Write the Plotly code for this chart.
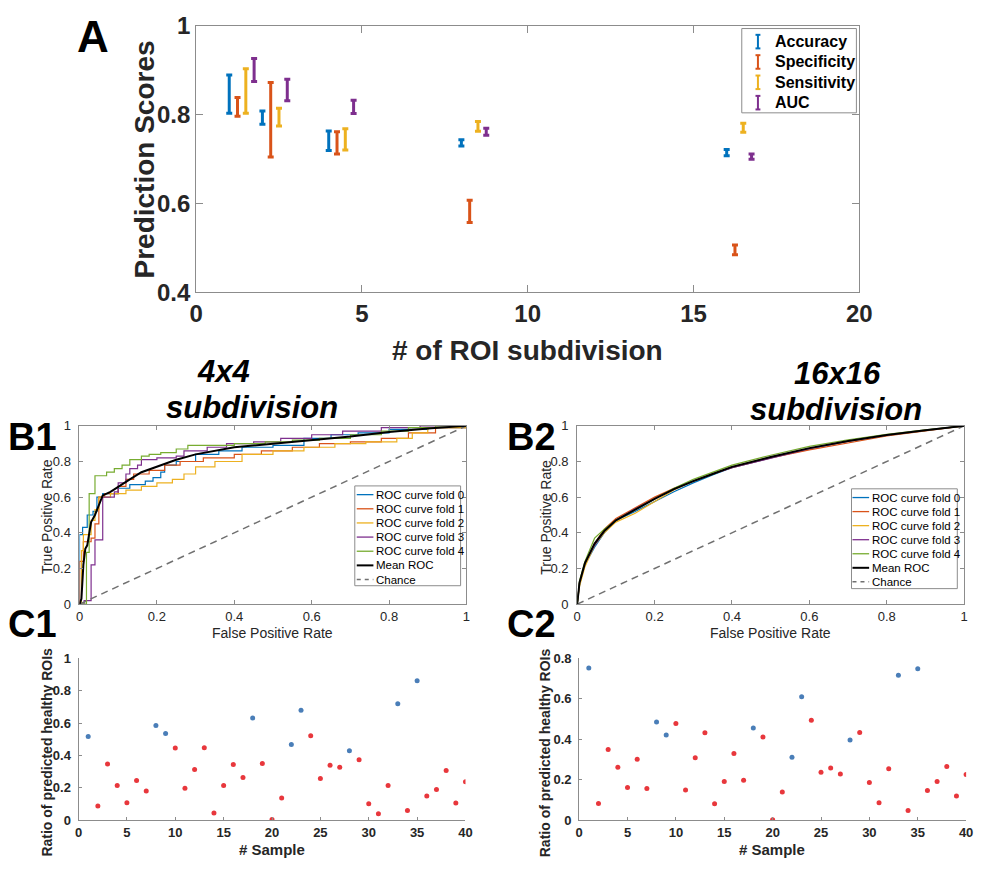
import plotly.graph_objects as go

W, H = 985, 872
FONT = "Liberation Sans, Arial, Helvetica, sans-serif"
AXIS_GRAY = "#8c8c8c"
TEXT_DARK = "#262626"

# ---------------- Panel A: prediction scores per ROI subdivision ----------------
roi_subdivisions = [1, 2, 4, 8, 16]
metric_names = ["Accuracy", "Specificity", "Sensitivity", "AUC"]
accuracy_mean = [0.846, 0.793, 0.741, 0.736, 0.714]
accuracy_err = [0.043, 0.015, 0.022, 0.007, 0.007]
specificity_mean = [0.817, 0.788, 0.736, 0.582, 0.495]
specificity_err = [0.021, 0.084, 0.025, 0.025, 0.011]
sensitivity_mean = [0.853, 0.794, 0.744, 0.773, 0.770]
sensitivity_err = [0.050, 0.020, 0.024, 0.011, 0.010]
auc_mean = [0.900, 0.855, 0.817, 0.761, 0.705]
auc_err = [0.026, 0.024, 0.015, 0.008, 0.006]
metric_colors = ["#0072BD", "#D95319", "#EDB120", "#7E2F8E"]

# ---------------- Panel B1: ROC curves, 4x4 subdivision ----------------
b1_fold0_fpr = [0, 0, 0.008, 0.02, 0.035, 0.045, 0.06, 0.10, 0.13, 0.17, 0.19, 0.21, 0.22, 0.25, 0.30, 0.36, 0.42, 0.50, 0.58, 0.65, 0.72, 0.80, 0.90, 1.0]
b1_fold0_tpr = [0, 0.39, 0.43, 0.50, 0.52, 0.60, 0.62, 0.65, 0.67, 0.69, 0.71, 0.74, 0.78, 0.80, 0.84, 0.86, 0.88, 0.89, 0.93, 0.95, 0.96, 0.98, 0.99, 1.0]
b1_fold1_fpr = [0, 0, 0.01, 0.03, 0.04, 0.05, 0.065, 0.10, 0.12, 0.14, 0.18, 0.22, 0.26, 0.32, 0.40, 0.47, 0.55, 0.62, 0.70, 0.78, 0.85, 0.92, 1.0]
b1_fold1_tpr = [0, 0.24, 0.35, 0.37, 0.45, 0.60, 0.62, 0.66, 0.70, 0.73, 0.75, 0.78, 0.80, 0.82, 0.84, 0.86, 0.88, 0.90, 0.91, 0.93, 0.96, 0.99, 1.0]
b1_fold2_fpr = [0, 0.005, 0.01, 0.03, 0.04, 0.05, 0.08, 0.12, 0.16, 0.20, 0.24, 0.27, 0.30, 0.35, 0.42, 0.50, 0.58, 0.66, 0.74, 0.82, 0.86, 0.90, 1.0]
b1_fold2_tpr = [0, 0.30, 0.39, 0.47, 0.53, 0.60, 0.62, 0.64, 0.66, 0.68, 0.70, 0.73, 0.77, 0.80, 0.84, 0.86, 0.88, 0.90, 0.91, 0.93, 0.96, 0.99, 1.0]
b1_fold3_fpr = [0, 0.012, 0.03, 0.04, 0.06, 0.09, 0.10, 0.12, 0.13, 0.15, 0.16, 0.20, 0.25, 0.27, 0.33, 0.38, 0.45, 0.52, 0.60, 0.68, 0.78, 0.88, 1.0]
b1_fold3_tpr = [0, 0.02, 0.22, 0.36, 0.60, 0.63, 0.68, 0.73, 0.76, 0.78, 0.81, 0.82, 0.83, 0.86, 0.88, 0.90, 0.91, 0.93, 0.95, 0.97, 0.99, 1.0, 1.0]
b1_fold4_fpr = [0, 0.018, 0.025, 0.04, 0.07, 0.09, 0.11, 0.13, 0.16, 0.18, 0.21, 0.25, 0.28, 0.33, 0.40, 0.48, 0.55, 0.62, 0.70, 0.78, 0.85, 0.92, 1.0]
b1_fold4_tpr = [0, 0.29, 0.62, 0.72, 0.74, 0.76, 0.78, 0.81, 0.83, 0.84, 0.85, 0.87, 0.89, 0.89, 0.90, 0.91, 0.92, 0.93, 0.95, 0.97, 0.99, 1.0, 1.0]
b1_mean_fpr = [0, 0.005, 0.01, 0.015, 0.02, 0.025, 0.03, 0.04, 0.05, 0.06, 0.08, 0.10, 0.13, 0.16, 0.20, 0.25, 0.30, 0.35, 0.40, 0.50, 0.60, 0.70, 0.80, 0.90, 1.0]
b1_mean_tpr = [0, 0.03, 0.22, 0.31, 0.33, 0.40, 0.46, 0.50, 0.56, 0.61, 0.63, 0.66, 0.70, 0.74, 0.77, 0.81, 0.84, 0.86, 0.88, 0.90, 0.92, 0.94, 0.965, 0.985, 1.0]

# ---------------- Panel B2: ROC curves, 16x16 subdivision ----------------
b2_fpr = [0, 0.006, 0.02, 0.045, 0.07, 0.10, 0.15, 0.20, 0.25, 0.30, 0.35, 0.40, 0.50, 0.60, 0.70, 0.80, 0.90, 1.0]
b2_fold0_tpr = [0, 0.11, 0.22, 0.32, 0.40, 0.47, 0.52, 0.575, 0.63, 0.68, 0.725, 0.765, 0.82, 0.87, 0.915, 0.948, 0.976, 1.0]
b2_fold1_tpr = [0, 0.12, 0.23, 0.34, 0.42, 0.48, 0.54, 0.60, 0.65, 0.69, 0.73, 0.765, 0.82, 0.865, 0.905, 0.943, 0.972, 1.0]
b2_fold2_tpr = [0, 0.10, 0.21, 0.33, 0.40, 0.46, 0.51, 0.575, 0.64, 0.69, 0.73, 0.77, 0.825, 0.873, 0.912, 0.948, 0.975, 1.0]
b2_fold3_tpr = [0, 0.12, 0.23, 0.33, 0.41, 0.47, 0.535, 0.59, 0.645, 0.69, 0.73, 0.765, 0.82, 0.872, 0.913, 0.948, 0.976, 1.0]
b2_fold4_tpr = [0, 0.13, 0.24, 0.37, 0.42, 0.47, 0.53, 0.59, 0.65, 0.70, 0.74, 0.78, 0.835, 0.885, 0.922, 0.953, 0.977, 1.0]
b2_mean_tpr = [0, 0.12, 0.23, 0.34, 0.41, 0.47, 0.53, 0.59, 0.645, 0.69, 0.73, 0.77, 0.825, 0.875, 0.915, 0.948, 0.975, 1.0]

fold_colors = ["#0072BD", "#D95319", "#EDB120", "#7E2F8E", "#77AC30"]
legend_labels = ["ROC curve fold 0", "ROC curve fold 1", "ROC curve fold 2",
                 "ROC curve fold 3", "ROC curve fold 4", "Mean ROC", "Chance"]

# ---------------- Panels C1 / C2: ratio of predicted healthy ROIs ----------------
samples = list(range(1, 41))
healthy_samples = [1, 8, 9, 18, 22, 23, 28, 33, 35]
c1_ratio = [0.518, 0.088, 0.348, 0.214, 0.108, 0.246, 0.180, 0.586, 0.536, 0.446,
            0.198, 0.314, 0.448, 0.044, 0.214, 0.344, 0.264, 0.632, 0.350, 0.004,
            0.138, 0.468, 0.680, 0.522, 0.258, 0.340, 0.328, 0.430, 0.374, 0.102,
            0.040, 0.214, 0.720, 0.060, 0.862, 0.150, 0.190, 0.308, 0.106, 0.238]
c2_ratio = [0.752, 0.083, 0.350, 0.262, 0.162, 0.302, 0.157, 0.486, 0.421, 0.478,
            0.149, 0.309, 0.432, 0.082, 0.192, 0.330, 0.198, 0.456, 0.411, 0.003,
            0.139, 0.312, 0.610, 0.494, 0.237, 0.258, 0.229, 0.397, 0.434, 0.186,
            0.086, 0.254, 0.717, 0.048, 0.749, 0.147, 0.192, 0.266, 0.120, 0.226]
healthy_color = "#4A7EB8"
lesion_color = "#E8373C"


def fx(p):
    return p / W


def fy(p):
    return 1 - p / H


fig = go.Figure()

# Panel A error bars (metrics side by side around each subdivision count)
metric_means = [accuracy_mean, specificity_mean, sensitivity_mean, auc_mean]
metric_errs = [accuracy_err, specificity_err, sensitivity_err, auc_err]
for k, (name, mean, err, color) in enumerate(zip(metric_names, metric_means, metric_errs, metric_colors)):
    fig.add_trace(go.Scatter(
        x=[r + 0.25 * k for r in roi_subdivisions], y=mean, name=name,
        mode="markers", marker=dict(size=1, color=color),
        error_y=dict(type="data", array=err, color=color, thickness=3, width=3),
        showlegend=False, xaxis="x", yaxis="y", hoverinfo="x+y"))

# Panel B1 curves
b1_folds = [(b1_fold0_fpr, b1_fold0_tpr), (b1_fold1_fpr, b1_fold1_tpr), (b1_fold2_fpr, b1_fold2_tpr),
            (b1_fold3_fpr, b1_fold3_tpr), (b1_fold4_fpr, b1_fold4_tpr)]
for k, (fpr, tpr) in enumerate(b1_folds):
    fig.add_trace(go.Scatter(x=fpr, y=tpr, mode="lines", name=legend_labels[k],
                             line=dict(color=fold_colors[k], width=1.2, shape="hv"),
                             showlegend=False, xaxis="x2", yaxis="y2"))
fig.add_trace(go.Scatter(x=[0, 1], y=[0, 1], mode="lines", name="Chance",
                         line=dict(color="#707070", width=1.5, dash="7px,5px"),
                         showlegend=False, xaxis="x2", yaxis="y2"))
fig.add_trace(go.Scatter(x=b1_mean_fpr, y=b1_mean_tpr, mode="lines", name="Mean ROC",
                         line=dict(color="black", width=2),
                         showlegend=False, xaxis="x2", yaxis="y2"))

# Panel B2 curves
b2_folds = [b2_fold0_tpr, b2_fold1_tpr, b2_fold2_tpr, b2_fold3_tpr, b2_fold4_tpr]
for k, tpr in enumerate(b2_folds):
    fig.add_trace(go.Scatter(x=b2_fpr, y=tpr, mode="lines", name=legend_labels[k],
                             line=dict(color=fold_colors[k], width=1.2),
                             showlegend=False, xaxis="x3", yaxis="y3"))
fig.add_trace(go.Scatter(x=[0, 1], y=[0, 1], mode="lines", name="Chance",
                         line=dict(color="#707070", width=1.5, dash="7px,5px"),
                         showlegend=False, xaxis="x3", yaxis="y3"))
fig.add_trace(go.Scatter(x=b2_fpr, y=b2_mean_tpr, mode="lines", name="Mean ROC",
                         line=dict(color="black", width=2),
                         showlegend=False, xaxis="x3", yaxis="y3"))

# Panels C1 / C2 scatter
for ratio, xa, ya in [(c1_ratio, "x4", "y4"), (c2_ratio, "x5", "y5")]:
    colors = [healthy_color if s in healthy_samples else lesion_color for s in samples]
    fig.add_trace(go.Scatter(x=samples, y=ratio, mode="markers",
                             marker=dict(size=5, color=colors),
                             showlegend=False, xaxis=xa, yaxis=ya))


def axis(domain, rng, tickvals, anchor, size, bold, mirror=True, ticklen=5, standoff=0):
    return dict(
        domain=domain, range=rng, tickvals=tickvals, anchor=anchor,
        showline=True, linecolor=AXIS_GRAY, linewidth=1,
        mirror="ticks" if mirror else False,
        ticks="inside", ticklen=ticklen, tickcolor=AXIS_GRAY,
        ticklabelstandoff=standoff,
        tickfont=dict(family=FONT, size=size, color=TEXT_DARK, weight="bold" if bold else "normal"),
        showgrid=False, zeroline=False, fixedrange=True,
    )


unit = [0, 0.2, 0.4, 0.6, 0.8, 1]
sample_ticks = [0, 5, 10, 15, 20, 25, 30, 35, 40]
layout = dict(
    width=W, height=H, margin=dict(l=0, r=0, t=0, b=0),
    paper_bgcolor="white", plot_bgcolor="white", showlegend=False,
    font=dict(family=FONT, color=TEXT_DARK),
    xaxis=axis([fx(193), fx(870)], [0, 20], [0, 5, 10, 15, 20], "y", 24, True, ticklen=7),
    yaxis=axis([fy(287), fy(12)], [0.4, 1], [0.4, 0.6, 0.8, 1], "x", 24, True, ticklen=7),
    xaxis2=axis([fx(74), fx(469)], [0, 1], unit, "y2", 13, False, ticklen=4),
    yaxis2=axis([fy(609), fy(425)], [0, 1], unit, "x2", 13, False, ticklen=4, standoff=5),
    xaxis3=axis([fx(582), fx(977)], [0, 1], unit, "y3", 13, False, ticklen=4),
    yaxis3=axis([fy(609), fy(425)], [0, 1], unit, "x3", 13, False, ticklen=4, standoff=5),
    xaxis4=axis([fx(73), fx(468)], [0, 40], sample_ticks, "y4", 13, True, mirror=False, ticklen=3),
    yaxis4=axis([fy(832), fy(665)], [0, 1], unit, "x4", 13, True, mirror=False, ticklen=3, standoff=4),
    xaxis5=axis([fx(584), fx(979)], [0, 40], sample_ticks, "y5", 13, True, mirror=False, ticklen=3),
    yaxis5=axis([fy(832), fy(665)], [0, 0.8], [0, 0.2, 0.4, 0.6, 0.8], "x5", 13, True, mirror=False, ticklen=3, standoff=4),
)
fig.update_layout(**layout)

annotations = []
shapes = []


def text(x, y, s, size, bold=False, angle=0, xanchor="center", yanchor="middle", italic=False,
         color=TEXT_DARK, pad=1):
    if bold:
        s = "<b>" + s + "</b>"
    if italic:
        s = "<i>" + s + "</i>"
    annotations.append(dict(x=fx(x), y=fy(y), xref="paper", yref="paper", text=s,
                            showarrow=False, xanchor=xanchor, yanchor=yanchor, borderpad=pad,
                            textangle=angle, font=dict(family=FONT, size=size, color=color)))


def seg(x0, y0, x1, y1, color, width, dash="solid"):
    shapes.append(dict(type="line", xref="paper", yref="paper",
                       x0=fx(x0), y0=fy(y0), x1=fx(x1), y1=fy(y1),
                       line=dict(color=color, width=width, dash=dash)))


def box(x0, y0, x1, y1):
    shapes.append(dict(type="rect", xref="paper", yref="paper",
                       x0=fx(x0), y0=fy(y0), x1=fx(x1), y1=fy(y1),
                       line=dict(color=AXIS_GRAY, width=1), fillcolor="white", layer="above"))


# Panel letters
text(88, -4, "A", 44, bold=True, yanchor="top", color="black")
text(26, 436, "B1", 38, bold=True, color="black", pad=0)
text(26, 630, "C1", 38, bold=True, color="black", pad=0)
text(535, 436, "B2", 38, bold=True, color="black", pad=0)
text(535, 630, "C2", 38, bold=True, color="black", pad=0)

# Panel B headings
text(221, 369, "4x4", 31, bold=True, italic=True, color="black")
text(250, 406, "subdivision", 31, bold=True, italic=True, color="black")
text(848, 371, "16x16", 31, bold=True, italic=True, color="black")
text(846, 408, "subdivision", 31, bold=True, italic=True, color="black")

# Axis titles
text(531, 347, "# of ROI subdivision", 28, bold=True)
text(140, 150, "Prediction Scores", 28, bold=True, angle=-90)
text(271.5, 639, "False Positive Rate", 14)
text(41, 519, "True Positive Rate", 14, angle=-90)
text(779.5, 639, "False Positive Rate", 14)
text(550, 519, "True Positive Rate", 14, angle=-90)
text(270, 862, "# Sample", 15, bold=True)
text(41, 762, "Ratio of predicted healthy ROIs", 14, bold=True, angle=-90)
text(781, 862, "# Sample", 15, bold=True)
text(550, 762, "Ratio of predicted healthy ROIs", 14, bold=True, angle=-90)

# Panel A legend (error-bar glyphs)
box(750, 15, 867, 102)
for k, (name, color) in enumerate(zip(metric_names, metric_colors)):
    cy = 28.5 + k * 21.0
    seg(766.5, cy - 7, 766.5, cy + 7, color, 2)
    seg(764, cy - 7, 769, cy - 7, color, 2)
    seg(764, cy + 7, 769, cy + 7, color, 2)
    text(782, cy, name, 16, bold=True, xanchor="left", color="black")


# ROC legends
def roc_legend(x0, y0, x1, y1, line_x0, line_x1, text_x, first_y, step):
    box(x0, y0, x1, y1)
    entry_colors = fold_colors + ["black", "#707070"]
    for k, label in enumerate(legend_labels):
        cy = first_y + k * step
        if label == "Chance":
            seg(line_x0, cy, line_x1, cy, entry_colors[k], 1.5, dash="4px,4px")
        else:
            seg(line_x0, cy, line_x1, cy, entry_colors[k], 2 if label == "Mean ROC" else 1.3)
        text(text_x, cy, label, 11.5, xanchor="left", color="black")


roc_legend(355, 487, 463, 590, 357, 374, 374.5, 496, 14.6)
roc_legend(862, 490, 970, 593, 863, 880, 880.5, 499, 14.5)

fig.update_layout(annotations=annotations, shapes=shapes)
fig.write_html("out.html")
